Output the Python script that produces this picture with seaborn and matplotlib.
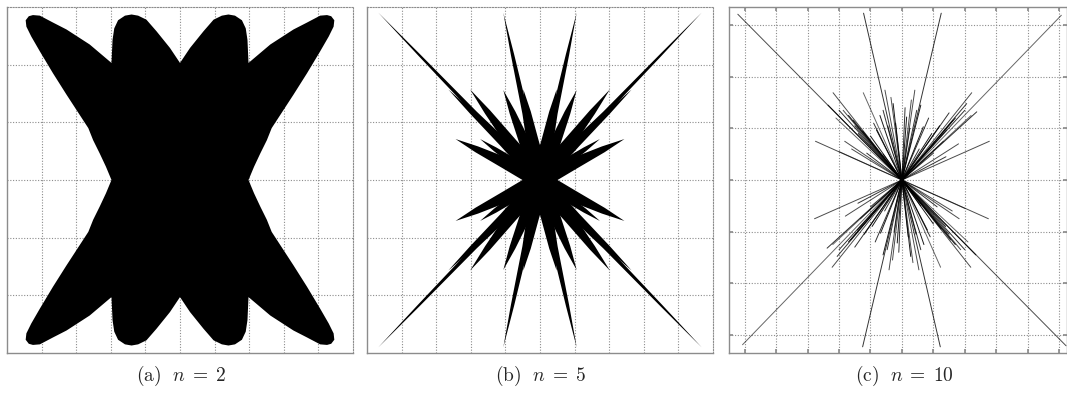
import numpy as np
import pandas as pd
import matplotlib
matplotlib.use("Agg")
import matplotlib.pyplot as plt
import seaborn as sns

# (a) n = 2 : outline of the upper-left quarter, left notch -> top centre
quarter_x = [-1.98, -2.14, -2.32, -2.51, -2.65, -2.90, -3.28, -3.67, -4.05, -4.30,
             -4.44, -4.46, -4.37, -4.25, -4.05, -3.67, -3.28, -2.61, -1.98,
             -1.95, -1.90, -1.79, -1.59, -1.40, -1.21, -0.97, -0.68, -0.29, 0.0]
quarter_y = [0.0, 0.23, 0.46, 0.69, 0.90, 1.13, 1.48, 1.85, 2.23, 2.49,
             2.66, 2.77, 2.84, 2.86, 2.85, 2.73, 2.61, 2.35, 2.03,
             2.43, 2.63, 2.77, 2.85, 2.87, 2.85, 2.78, 2.58, 2.29, 2.03]

# (b) n = 5 : spikes of the upper-left quadrant
# tip x, tip y, half width at the root and at 40% of the length (px)
spike_x = [-4.67, -1.06, -2.65, -2.02, -1.06, -0.48, -2.44, -1.73, -1.45]
spike_y = [2.90, 2.90, 1.57, 1.57, 1.56, 1.57, 0.71, 0.71, 1.04]
spike_root = [6.0, 7.5, 6.5, 9.0, 9.0, 10.5, 9.0, 7.5, 6.5]
spike_mid = [2.0, 3.0, 3.5, 5.5, 5.5, 6.0, 5.8, 4.0, 3.5]

# (c) n = 10 : upper ends of the segments through the centre
seg_x = [-5.22, 5.07, -1.22, 1.25, -2.75, 2.78, -2.19, 2.22, -1.23, -2.35, 2.38,
         -1.82, 1.32, -0.60, 0.47, -0.28, 0.15, -1.55, 1.63, -1.12, 1.00, 1.42,
         -1.39, -0.81, 0.68, -1.87, 2.06, -0.54, 0.41,
         -2.00, -1.70, -1.50, -1.25, -2.10, -1.00, -0.90, -0.70, -0.45, -0.35,
         -0.20, -1.60, -2.00, -0.60,
         2.00, 1.70, 1.50, 1.20, 2.20, 0.95, 0.85, 0.60, 0.30, 0.25, 1.80,
         1.40, 0.55, 0.10]
seg_y = [3.21, 3.19, 3.23, 3.23, 0.75, 0.75, 1.69, 1.69, 1.69, 1.45, 1.32,
         0.75, 0.75, 1.35, 1.35, 1.48, 1.22, 1.16, 1.16, 0.52, 0.52, 0.97,
         0.90, 0.97, 1.03, 1.35, 1.48, 1.74, 1.74,
         1.35, 1.25, 1.05, 0.95, 1.20, 0.85, 1.10, 1.25, 1.05, 1.60,
         1.10, 0.60, 0.55, 0.50,
         1.35, 1.20, 1.30, 1.05, 1.25, 0.90, 1.20, 1.45, 1.55, 1.00, 0.70,
         0.45, 0.60, 1.40]
seg_alpha = [0.7, 0.6, 0.8, 0.8, 0.7, 0.7, 0.7, 0.7, 0.6, 0.9, 0.8,
             0.7, 0.7, 0.8, 0.8, 0.9, 0.9, 0.8, 0.8, 0.8, 0.8, 0.9,
             0.9, 0.9, 0.9, 0.7, 0.8, 0.7, 0.7,
             0.8, 0.9, 0.8, 0.9, 0.6, 0.9, 0.8, 0.9, 0.8, 0.7,
             0.8, 0.7, 0.6, 0.8,
             0.8, 0.9, 0.8, 0.9, 0.6, 0.9, 0.8, 0.9, 0.7, 0.8, 0.7,
             0.8, 0.8, 0.8]

captions = ["(a)", "(b)", "(c)"]
n_values = [2, 5, 10]

sns.set_theme(style="white")
plt.rcParams["mathtext.fontset"] = "cm"

fig = plt.figure(figsize=(10.67, 4), dpi=100)
ax_a = fig.add_axes([7 / 1067, 47 / 400, 346 / 1067, 346 / 400])
ax_b = fig.add_axes([367 / 1067, 47 / 400, 346 / 1067, 346 / 400])
ax_c = fig.add_axes([729 / 1067, 47 / 400, 338 / 1067, 346 / 400])


def style_axes(ax, xlim, ylim, xticks, yticks, dotted_box):
    ax.set_xlim(*xlim)
    ax.set_ylim(*ylim)
    ax.set_xticks(xticks)
    ax.set_yticks(yticks)
    ax.set_xticklabels([])
    ax.set_yticklabels([])
    ax.grid(True, color="#8c8c8c", linestyle=(0, (1, 1.5)), linewidth=0.8)
    ax.set_axisbelow(True)
    for side, sp in ax.spines.items():
        sp.set_visible(True)
        sp.set_color("#8c8c8c")
        sp.set_linewidth(1.0)
        if dotted_box and side in ("top", "right"):
            sp.set_linestyle((0, (1, 1.5)))
            sp.set_linewidth(0.8)
    ax.tick_params(length=0)


# panel (a): mirror the quarter outline into a closed shape
qx = np.array(quarter_x)
qy = np.array(quarter_y)
top_x = np.concatenate([qx, -qx[::-1]])
top_y = np.concatenate([qy, qy[::-1]])
shape_x = np.concatenate([top_x, top_x[::-1]])
shape_y = np.concatenate([top_y, -top_y[::-1]])
style_axes(ax_a, (-5, 5), (-3, 3), range(-4, 5), range(-2, 3), True)
ax_a.fill(shape_x, shape_y, color="black", lw=0, zorder=3)

# panel (b): lancet spikes in all four quadrants
style_axes(ax_b, (-5, 5), (-3, 3), range(-4, 5), range(-2, 3), True)
px_x = 346 / 10
px_y = 346 / 6
for sx_sign in (1, -1):
    for sy_sign in (1, -1):
        for tx, ty, w0, w1 in zip(spike_x, spike_y, spike_root, spike_mid):
            dx, dy = tx * sx_sign * px_x, ty * sy_sign * px_y
            L = np.hypot(dx, dy)
            nx, ny = -dy / L, dx / L
            profile = [(0.0, w0), (0.4, w1), (0.75, w1 * 0.55), (1.0, 0.0)]
            left = [((f * dx + nx * w) / px_x, (f * dy + ny * w) / px_y) for f, w in profile]
            right = [((f * dx - nx * w) / px_x, (f * dy - ny * w) / px_y) for f, w in profile]
            poly = left + right[::-1]
            ax_b.fill([p[0] for p in poly], [p[1] for p in poly], color="black", lw=0, zorder=3)

# panel (c): thin segments through the centre
style_axes(ax_c, (-5.5, 5.25), (-3.35, 3.35), range(-5, 6), range(-3, 4), False)
ax_c.tick_params(length=3, direction="in", color="#8c8c8c", left=True, bottom=True, top=True, right=True)
rows = []
for i, (x, y, a) in enumerate(zip(seg_x, seg_y, seg_alpha)):
    rows.append({"line": i, "x": -x, "y": -y, "alpha": a})
    rows.append({"line": i, "x": x, "y": y, "alpha": a})
seg_df = pd.DataFrame(rows)
for name, grp in seg_df.groupby("line", sort=False):
    sns.lineplot(data=grp, x="x", y="y", ax=ax_c, color="black", linewidth=0.7,
                 alpha=grp["alpha"].iloc[0], sort=False, estimator=None, zorder=3)
ax_c.set_xlabel("")
ax_c.set_ylabel("")

for cap, n, cx in zip(captions, n_values, [181, 541, 904]):
    fig.text(cx / 1067, 0.06, r"$\mathrm{" + cap + r"}\ \ n\;=\;" + str(n) + "$",
             ha="center", va="center", fontsize=14)

fig.savefig("out.png", dpi=100)
